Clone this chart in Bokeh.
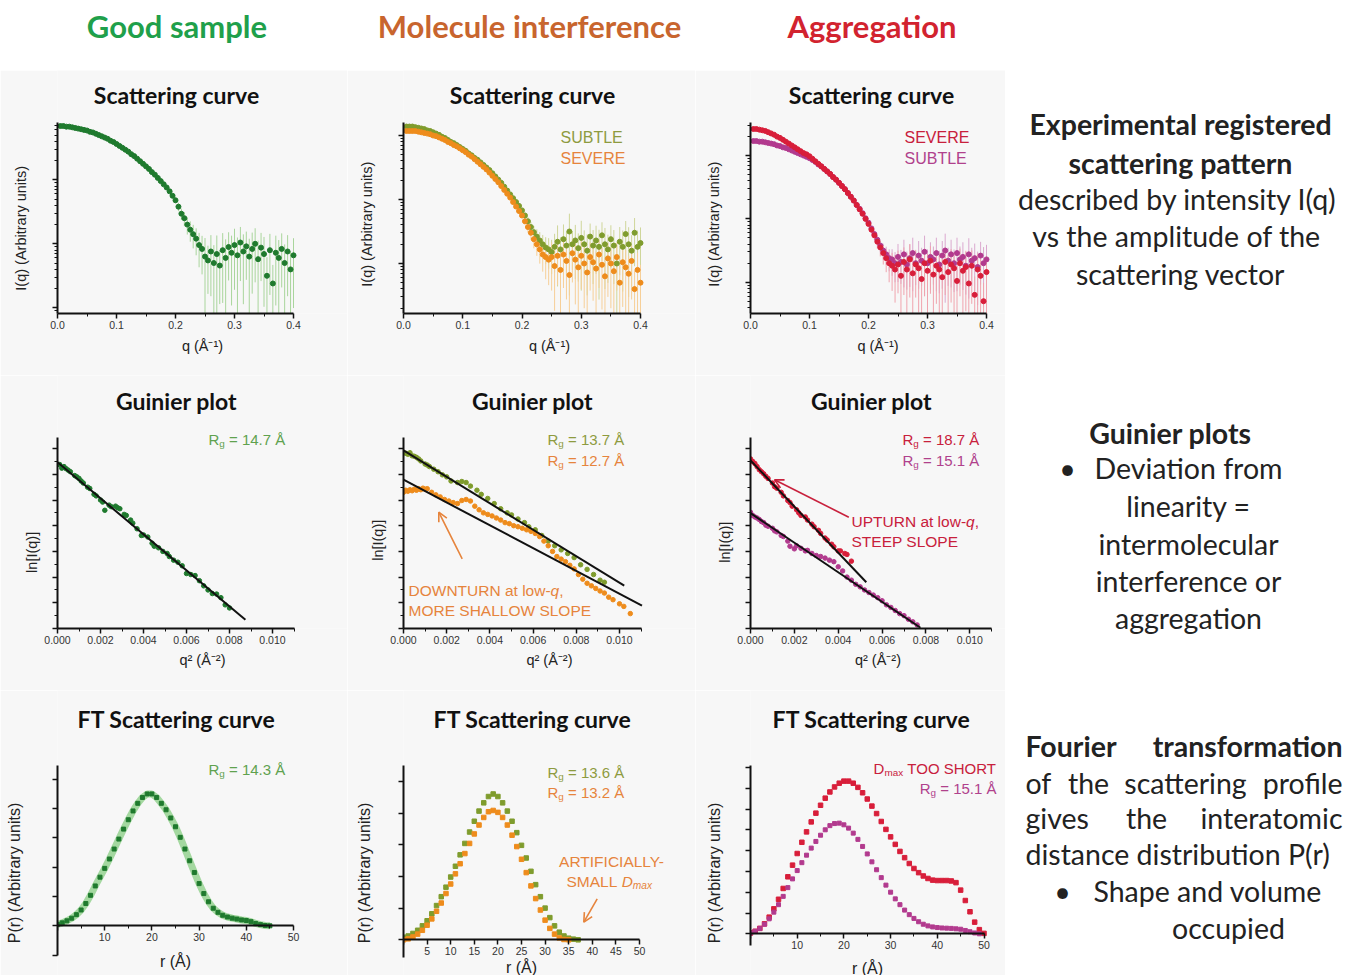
from bokeh.plotting import figure
from bokeh.layouts import column, row
from bokeh.models import (Range1d, FixedTicker, Label, Arrow, OpenHead, PrintfTickFormatter,
                          LogTicker, CustomJSTickFormatter)
from bokeh.core.properties import value
from bokeh.embed import file_html
from bokeh.resources import INLINE

# ------------------------------------------------------------------ data
COL_TITLES = ["Good sample", "Molecule interference", "Aggregation"]
ROW_TITLES = ["Scattering curve", "Guinier plot", "FT Scattering curve"]

Q = [0.005, 0.010, 0.015, 0.020, 0.025, 0.030, 0.035, 0.040, 0.045, 0.050,
     0.055, 0.060, 0.065, 0.070, 0.075, 0.080, 0.085, 0.090, 0.095, 0.100,
     0.105, 0.110, 0.115, 0.120, 0.125, 0.130, 0.135, 0.140, 0.145, 0.150,
     0.155, 0.160, 0.165, 0.170, 0.175, 0.180, 0.185, 0.190, 0.195, 0.200,
     0.205, 0.210, 0.215, 0.220, 0.225, 0.230, 0.235, 0.240, 0.245, 0.250,
     0.255, 0.260, 0.265, 0.270, 0.275, 0.280, 0.285, 0.290, 0.295, 0.300,
     0.305, 0.310, 0.315, 0.320, 0.325, 0.330, 0.335, 0.340, 0.345, 0.350,
     0.355, 0.360, 0.365, 0.370, 0.375, 0.380, 0.385, 0.390, 0.395, 0.400]

# log10 I(q), arbitrary units
LOGI_GOOD = [2.84, 2.84, 2.83, 2.83, 2.82, 2.81, 2.80, 2.79, 2.78, 2.77,
             2.75, 2.74, 2.72, 2.70, 2.68, 2.66, 2.64, 2.61, 2.59, 2.56,
             2.53, 2.50, 2.47, 2.44, 2.40, 2.37, 2.33, 2.29, 2.25, 2.21,
             2.17, 2.12, 2.08, 2.03, 1.98, 1.93, 1.88, 1.82, 1.75, 1.68,
             1.58, 1.47, 1.40, 1.30, 1.22, 1.15, 1.08, 0.98, 0.92, 0.80,
             0.74, 0.88, 0.70, 0.84, 0.66, 0.90, 0.78, 0.95, 0.86, 0.98,
             0.82, 1.02, 0.88, 0.96, 0.80, 0.92, 1.00, 0.76, 0.94, 0.84,
             0.50, 0.90, 0.38, 0.86, 0.78, 0.92, 0.70, 0.88, 0.60, 0.82]
ERR_GOOD = [0.03, 0.03, 0.03, 0.03, 0.03, 0.03, 0.03, 0.03, 0.03, 0.03,
            0.03, 0.03, 0.03, 0.03, 0.03, 0.03, 0.03, 0.03, 0.03, 0.03,
            0.03, 0.03, 0.03, 0.03, 0.03, 0.03, 0.03, 0.03, 0.03, 0.03,
            0.03, 0.03, 0.03, 0.03, 0.03, 0.03, 0.03, 0.03, 0.08, 0.10,
            0.15, 0.20, 0.25, 0.30, 0.35, 0.40, 0.45, 0.55, 0.60, 0.95,
            0.70, 0.80, 0.90, 0.95, 0.75, 0.85, 0.95, 0.70, 0.85, 0.80,
            0.90, 0.75, 0.85, 0.70, 0.90, 0.80, 0.75, 0.95, 0.70, 0.85,
            0.95, 0.80, 0.95, 0.85, 0.90, 0.75, 0.95, 0.80, 0.90, 0.85]

LOGI_MOL_SUBTLE = [3.14, 3.14, 3.14, 3.13, 3.12, 3.11, 3.10, 3.08, 3.07, 3.05,
                   3.03, 3.01, 2.98, 2.96, 2.93, 2.90, 2.88, 2.85, 2.82, 2.79,
                   2.76, 2.72, 2.69, 2.65, 2.62, 2.58, 2.54, 2.50, 2.46, 2.41,
                   2.36, 2.31, 2.26, 2.20, 2.14, 2.08, 2.02, 1.96, 1.90, 1.83,
                   1.75, 1.66, 1.57, 1.49, 1.42, 1.36, 1.30, 1.25, 1.22, 1.18,
                   1.26, 1.34, 1.22, 1.38, 1.28, 1.50, 1.30, 1.36, 1.24, 1.40,
                   1.30, 1.20, 1.42, 1.28, 1.36, 1.26, 1.44, 1.30, 1.22, 1.38,
                   1.28, 1.00, 1.34, 1.26, 1.46, 1.30, 1.20, 1.48, 1.26, 1.32]
ERR_MOL_SUBTLE = [0.03, 0.03, 0.03, 0.03, 0.03, 0.03, 0.03, 0.03, 0.03, 0.03,
                  0.03, 0.03, 0.03, 0.03, 0.03, 0.03, 0.03, 0.03, 0.03, 0.03,
                  0.03, 0.03, 0.03, 0.03, 0.03, 0.03, 0.03, 0.03, 0.03, 0.03,
                  0.03, 0.03, 0.03, 0.03, 0.03, 0.03, 0.03, 0.03, 0.06, 0.08,
                  0.12, 0.16, 0.20, 0.25, 0.30, 0.35, 0.40, 0.45, 0.50, 0.55,
                  0.60, 0.80, 0.55, 0.70, 0.65, 0.90, 0.60, 0.75, 0.70, 0.85,
                  0.65, 0.80, 0.60, 0.75, 0.70, 0.85, 0.60, 0.80, 0.70, 0.65,
                  0.75, 0.95, 0.70, 0.80, 0.60, 0.85, 0.75, 0.70, 0.80, 0.75]
LOGI_MOL_SEVERE = [3.07, 3.07, 3.07, 3.07, 3.06, 3.05, 3.04, 3.03, 3.02, 3.00,
                   2.99, 2.97, 2.95, 2.93, 2.90, 2.88, 2.85, 2.83, 2.80, 2.77,
                   2.74, 2.70, 2.67, 2.63, 2.59, 2.55, 2.51, 2.47, 2.42, 2.37,
                   2.32, 2.27, 2.21, 2.15, 2.09, 2.03, 1.96, 1.89, 1.82, 1.75,
                   1.66, 1.57, 1.48, 1.38, 1.30, 1.22, 1.14, 1.10, 1.06, 1.10,
                   0.96, 1.12, 0.90, 1.14, 1.04, 0.82, 1.16, 1.06, 0.94, 1.12,
                   1.00, 0.86, 1.10, 1.02, 0.92, 1.14, 0.98, 0.80, 1.08, 1.00,
                   0.88, 1.10, 0.70, 1.02, 0.94, 0.84, 1.04, 0.60, 0.90, 0.70]
ERR_MOL_SEVERE = [0.03, 0.03, 0.03, 0.03, 0.03, 0.03, 0.03, 0.03, 0.03, 0.03,
                  0.03, 0.03, 0.03, 0.03, 0.03, 0.03, 0.03, 0.03, 0.03, 0.03,
                  0.03, 0.03, 0.03, 0.03, 0.03, 0.03, 0.03, 0.03, 0.03, 0.03,
                  0.03, 0.03, 0.03, 0.03, 0.03, 0.03, 0.03, 0.03, 0.06, 0.09,
                  0.12, 0.18, 0.22, 0.28, 0.34, 0.40, 0.46, 0.55, 0.60, 0.70,
                  0.80, 0.65, 0.90, 0.70, 0.75, 0.90, 0.65, 0.80, 0.85, 0.70,
                  0.80, 0.90, 0.70, 0.75, 0.85, 0.70, 0.80, 0.95, 0.75, 0.80,
                  0.85, 0.70, 0.95, 0.80, 0.85, 0.90, 0.75, 0.95, 0.85, 0.90]

LOGI_AGG_SEVERE = [3.42, 3.42, 3.41, 3.40, 3.39, 3.37, 3.35, 3.33, 3.30, 3.28,
                   3.25, 3.22, 3.19, 3.16, 3.13, 3.10, 3.07, 3.04, 3.02, 2.99,
                   2.95, 2.91, 2.87, 2.83, 2.79, 2.75, 2.71, 2.66, 2.62, 2.57,
                   2.52, 2.47, 2.41, 2.35, 2.29, 2.22, 2.15, 2.08, 2.00, 1.92,
                   1.83, 1.74, 1.64, 1.55, 1.46, 1.38, 1.30, 1.26, 1.20, 1.28,
                   1.10, 1.32, 1.20, 1.36, 1.14, 1.28, 1.22, 1.05, 1.30, 1.18,
                   1.34, 1.12, 1.26, 1.20, 1.08, 1.32, 1.16, 1.28, 1.22, 1.02,
                   1.30, 1.18, 1.24, 0.98, 1.26, 0.80, 1.20, 1.10, 0.70, 1.16]
ERR_AGG_SEVERE = [0.03, 0.03, 0.03, 0.03, 0.03, 0.03, 0.03, 0.03, 0.03, 0.03,
                  0.03, 0.03, 0.03, 0.03, 0.03, 0.03, 0.03, 0.03, 0.03, 0.03,
                  0.03, 0.03, 0.03, 0.03, 0.03, 0.03, 0.03, 0.03, 0.03, 0.03,
                  0.03, 0.03, 0.03, 0.03, 0.03, 0.03, 0.03, 0.03, 0.06, 0.08,
                  0.12, 0.16, 0.22, 0.28, 0.34, 0.40, 0.50, 0.60, 0.70, 0.65,
                  0.85, 0.70, 0.80, 0.75, 0.90, 0.70, 0.80, 0.95, 0.70, 0.85,
                  0.70, 0.90, 0.75, 0.80, 0.95, 0.70, 0.85, 0.75, 0.80, 0.95,
                  0.70, 0.85, 0.80, 0.95, 0.75, 0.95, 0.80, 0.85, 0.95, 0.80]
LOGI_AGG_SUBTLE = [3.23, 3.23, 3.22, 3.22, 3.21, 3.20, 3.19, 3.18, 3.16, 3.15,
                   3.13, 3.12, 3.10, 3.08, 3.06, 3.04, 3.02, 3.00, 2.98, 2.96,
                   2.93, 2.90, 2.86, 2.83, 2.79, 2.75, 2.71, 2.66, 2.62, 2.57,
                   2.52, 2.47, 2.41, 2.35, 2.29, 2.22, 2.16, 2.09, 2.01, 1.94,
                   1.85, 1.76, 1.67, 1.58, 1.50, 1.44, 1.38, 1.36, 1.30, 1.40,
                   1.32, 1.44, 1.28, 1.38, 1.46, 1.30, 1.42, 1.34, 1.48, 1.30,
                   1.40, 1.36, 1.46, 1.28, 1.42, 1.50, 1.34, 1.44, 1.30, 1.46,
                   1.36, 1.40, 1.26, 1.44, 1.34, 1.38, 1.24, 1.42, 1.30, 1.36]
ERR_AGG_SUBTLE = [0.03, 0.03, 0.03, 0.03, 0.03, 0.03, 0.03, 0.03, 0.03, 0.03,
                  0.03, 0.03, 0.03, 0.03, 0.03, 0.03, 0.03, 0.03, 0.03, 0.03,
                  0.03, 0.03, 0.03, 0.03, 0.03, 0.03, 0.03, 0.03, 0.03, 0.03,
                  0.03, 0.03, 0.03, 0.03, 0.03, 0.03, 0.03, 0.03, 0.05, 0.07,
                  0.10, 0.14, 0.18, 0.22, 0.28, 0.32, 0.38, 0.45, 0.50, 0.60,
                  0.55, 0.70, 0.60, 0.65, 0.75, 0.55, 0.70, 0.60, 0.80, 0.65,
                  0.70, 0.60, 0.75, 0.65, 0.70, 0.85, 0.60, 0.70, 0.65, 0.75,
                  0.60, 0.70, 0.65, 0.80, 0.60, 0.70, 0.75, 0.65, 0.80, 0.70]

# Guinier plots: q^2 and ln I
GUIN_GOOD_Q2 = [0.0001, 0.0002, 0.0003, 0.0004, 0.0005, 0.0006, 0.0008, 0.0009, 0.0010, 0.0011,
                0.0012, 0.0014, 0.0015, 0.0017, 0.0018, 0.0020, 0.0021, 0.0022, 0.0024, 0.0025,
                0.0027, 0.0028, 0.0029, 0.0031, 0.0032, 0.0034, 0.0035, 0.0037, 0.0039, 0.0040,
                0.0042, 0.0044, 0.0045, 0.0047, 0.0049, 0.0051, 0.0052, 0.0054, 0.0056, 0.0058,
                0.0060, 0.0062, 0.0064, 0.0066, 0.0068, 0.0070, 0.0072, 0.0074, 0.0076, 0.0078,
                0.0080]
GUIN_GOOD_LN = [6.38, 6.24, 6.30, 6.22, 6.16, 6.10, 5.95, 5.90, 5.84, 5.74,
                5.66, 5.50, 5.45, 5.22, 5.16, 5.00, 4.92, 4.60, 4.80, 4.74,
                4.76, 4.70, 4.66, 4.44, 4.40, 4.22, 4.10, 3.88, 3.62, 3.64,
                3.56, 3.32, 3.20, 3.14, 3.00, 2.92, 2.80, 2.66, 2.58, 2.44,
                2.14, 2.10, 2.06, 1.86, 1.66, 1.50, 1.36, 1.34, 1.20, 0.92,
                0.80]
FIT_GOOD_Q2 = [0.0, 0.00874]
FIT_GOOD_LN = [6.47, 0.34]

GUIN_MOL_SUBTLE_Q2 = [0.0001, 0.0002, 0.0003, 0.0004, 0.0005, 0.0006, 0.0007, 0.0008, 0.0010, 0.0011,
                      0.0012, 0.0014, 0.0016, 0.0018, 0.0020, 0.0022, 0.0025, 0.0027, 0.0029, 0.0031,
                      0.0034, 0.0036, 0.0039, 0.0042, 0.0045, 0.0048, 0.0050, 0.0053, 0.0056, 0.0058,
                      0.0061, 0.0064, 0.0067, 0.0070, 0.0073, 0.0076, 0.0079, 0.0082, 0.0085, 0.0088,
                      0.0091, 0.0093]
GUIN_MOL_SUBTLE_LN = [6.82, 6.78, 6.84, 6.72, 6.70, 6.66, 6.60, 6.52, 6.40, 6.36,
                      6.30, 6.20, 6.10, 5.98, 5.90, 5.74, 5.68, 5.72, 5.68, 5.54,
                      5.38, 5.22, 5.06, 4.86, 4.66, 4.50, 4.42, 4.26, 4.12, 3.96,
                      3.84, 3.62, 3.40, 3.22, 3.06, 2.92, 2.76, 2.48, 2.30, 2.10,
                      1.88, 1.80]
GUIN_MOL_SEVERE_Q2 = [0.0000, 0.0001, 0.0002, 0.0003, 0.0004, 0.0005, 0.0006, 0.0007, 0.0008, 0.0009,
                      0.0010, 0.0011, 0.0013, 0.0015, 0.0017, 0.0019, 0.0021, 0.0023, 0.0025, 0.0027,
                      0.0029, 0.0031, 0.0033, 0.0035, 0.0037, 0.0039, 0.0041, 0.0043, 0.0045, 0.0047,
                      0.0049, 0.0051, 0.0053, 0.0055, 0.0057, 0.0059, 0.0061, 0.0063, 0.0065, 0.0067,
                      0.0069, 0.0071, 0.0073, 0.0075, 0.0077, 0.0079, 0.0081, 0.0083, 0.0085, 0.0087,
                      0.0089, 0.0091, 0.0093, 0.0095, 0.0097, 0.0100, 0.0102, 0.0105]
GUIN_MOL_SEVERE_LN = [5.30, 5.38, 5.34, 5.40, 5.36, 5.42, 5.38, 5.44, 5.40, 5.46,
                      5.42, 5.44, 5.30, 5.20, 5.12, 5.02, 4.96, 4.90, 4.86, 4.98,
                      5.02, 4.96, 4.76, 4.62, 4.50, 4.44, 4.38, 4.30, 4.22, 4.12,
                      4.08, 4.00, 3.96, 3.90, 3.84, 3.78, 3.70, 3.58, 3.40, 3.22,
                      3.00, 2.80, 2.70, 2.60, 2.46, 2.32, 2.10, 1.92, 1.76, 1.66,
                      1.56, 1.46, 1.38, 1.22, 1.12, 0.96, 0.86, 0.58]
FIT_MOL_SUBTLE_Q2 = [0.0, 0.01022]
FIT_MOL_SUBTLE_LN = [6.93, 1.67]
FIT_MOL_SEVERE_Q2 = [0.0, 0.01104]
FIT_MOL_SEVERE_LN = [5.79, 0.89]

GUIN_AGG_SEVERE_Q2 = [0.0000, 0.0001, 0.0002, 0.0003, 0.0004, 0.0005, 0.0006, 0.0007, 0.0008, 0.0010,
                      0.0011, 0.0012, 0.0014, 0.0015, 0.0017, 0.0018, 0.0019, 0.0021, 0.0022, 0.0023,
                      0.0025, 0.0026, 0.0028, 0.0029, 0.0031, 0.0032, 0.0034, 0.0035, 0.0037, 0.0038,
                      0.0040, 0.0041, 0.0043, 0.0044, 0.0046]
GUIN_AGG_SEVERE_LN = [6.60, 6.50, 6.42, 6.30, 6.18, 6.10, 6.02, 5.92, 5.84, 5.66,
                      5.52, 5.46, 5.30, 5.16, 4.98, 4.90, 4.76, 4.62, 4.50, 4.40,
                      4.34, 4.22, 4.06, 3.96, 3.82, 3.70, 3.52, 3.44, 3.28, 3.18,
                      3.02, 3.02, 2.92, 2.88, 2.62]
GUIN_AGG_SUBTLE_Q2 = [0.0000, 0.0001, 0.0002, 0.0003, 0.0004, 0.0005, 0.0006, 0.0007, 0.0008, 0.0010,
                      0.0011, 0.0012, 0.0014, 0.0015, 0.0017, 0.0018, 0.0020, 0.0021, 0.0023, 0.0025,
                      0.0026, 0.0028, 0.0030, 0.0032, 0.0034, 0.0036, 0.0038, 0.0040, 0.0042, 0.0044,
                      0.0046, 0.0048, 0.0050, 0.0052, 0.0054, 0.0056, 0.0058, 0.0060, 0.0062, 0.0064,
                      0.0066, 0.0068, 0.0070, 0.0072, 0.0074, 0.0076]
GUIN_AGG_SUBTLE_LN = [4.52, 4.40, 4.34, 4.30, 4.24, 4.16, 4.12, 4.02, 3.98, 3.90,
                      3.80, 3.76, 3.62, 3.58, 3.40, 3.20, 3.10, 3.22, 3.12, 3.02,
                      3.04, 2.92, 2.84, 2.80, 2.74, 2.66, 2.60, 2.40, 2.24, 2.00,
                      1.88, 1.72, 1.62, 1.50, 1.40, 1.30, 1.20, 1.08, 0.92, 0.82,
                      0.70, 0.58, 0.50, 0.36, 0.26, 0.14]
FIT_AGG_SEVERE_Q2 = [0.0, 0.00528]
FIT_AGG_SEVERE_LN = [6.54, 1.80]
FIT_AGG_SUBTLE_Q2 = [0.0, 0.00775]
FIT_AGG_SUBTLE_LN = [4.49, 0.03]

# P(r) distance distributions
R_GOOD = [0, 1, 2, 3, 4, 5, 6, 7, 8, 9, 10, 11, 12, 13, 14, 15, 16, 17, 18, 19, 20, 21, 22,
          23, 24, 25, 26, 27, 28, 29, 30, 31, 32, 33, 34, 35, 36, 37, 38, 39, 40, 41, 42, 43, 44, 45]
PR_GOOD = [0.05, 0.10, 0.17, 0.26, 0.38, 0.54, 0.76, 1.04, 1.36, 1.66,
           1.96, 2.28, 2.62, 2.96, 3.30, 3.62, 3.92, 4.18, 4.38, 4.50,
           4.50, 4.38, 4.18, 3.96, 3.68, 3.38, 3.02, 2.62, 2.22, 1.82,
           1.44, 1.10, 0.82, 0.60, 0.46, 0.36, 0.30, 0.26, 0.23, 0.20,
           0.18, 0.14, 0.08, 0.04, 0.01, 0.00]
R_MOL_SUBTLE = [0, 1, 2, 3, 4, 5, 6, 7, 8, 9, 10, 11, 12, 13, 14, 15, 16, 17, 18, 19,
                20, 21, 22, 23, 24, 25, 26, 27, 28, 29, 30, 31, 32, 33, 34, 35, 36, 37]
PR_MOL_SUBTLE = [0.08, 0.12, 0.20, 0.30, 0.44, 0.60, 0.82, 1.08, 1.36, 1.66,
                 1.98, 2.32, 2.68, 3.04, 3.40, 3.74, 4.06, 4.32, 4.52, 4.60,
                 4.52, 4.32, 4.06, 3.74, 3.38, 2.98, 2.58, 2.16, 1.74, 1.36,
                 1.00, 0.70, 0.44, 0.24, 0.12, 0.05, 0.02, 0.00]
R_MOL_SEVERE = [0, 1, 2, 3, 4, 5, 6, 7, 8, 9, 10, 11, 12, 13, 14, 15, 16, 17, 18, 19,
                20, 21, 22, 23, 24, 25, 26, 27, 28, 29, 30, 31, 32, 33, 34, 35]
PR_MOL_SEVERE = [0.00, 0.03, 0.09, 0.18, 0.30, 0.46, 0.66, 0.90, 1.16, 1.46,
                 1.76, 2.08, 2.40, 2.72, 3.04, 3.34, 3.62, 3.86, 4.04, 4.08,
                 4.02, 3.86, 3.62, 3.30, 2.94, 2.54, 2.12, 1.70, 1.30, 0.94,
                 0.62, 0.36, 0.18, 0.06, 0.01, 0.00]
R_AGG_SEVERE = [0, 1, 2, 3, 4, 5, 6, 7, 8, 9, 10, 11, 12, 13, 14, 15, 16, 17, 18, 19, 20, 21, 22, 23, 24, 25,
                26, 27, 28, 29, 30, 31, 32, 33, 34, 35, 36, 37, 38, 39, 40, 41, 42, 43, 44, 45, 46, 47, 48, 49, 50]
PR_AGG_SEVERE = [0.04, 0.12, 0.26, 0.48, 0.80, 1.20, 1.66, 2.18, 2.74, 3.30,
                 3.86, 4.40, 4.90, 5.38, 5.80, 6.18, 6.52, 6.82, 7.06, 7.24,
                 7.34, 7.34, 7.24, 7.04, 6.78, 6.48, 6.14, 5.78, 5.40, 5.02,
                 4.66, 4.30, 3.96, 3.66, 3.38, 3.14, 2.94, 2.78, 2.66, 2.58,
                 2.56, 2.56, 2.56, 2.54, 2.46, 2.10, 1.60, 1.06, 0.56, 0.20,
                 0.02]
R_AGG_SUBTLE = [0, 1, 2, 3, 4, 5, 6, 7, 8, 9, 10, 11, 12, 13, 14, 15, 16, 17, 18, 19, 20, 21, 22, 23, 24,
                25, 26, 27, 28, 29, 30, 31, 32, 33, 34, 35, 36, 37, 38, 39, 40, 41, 42, 43, 44, 45, 46, 47, 48, 49]
PR_AGG_SUBTLE = [0.04, 0.12, 0.26, 0.46, 0.72, 1.04, 1.40, 1.80, 2.22, 2.64,
                 3.04, 3.42, 3.78, 4.12, 4.44, 4.74, 5.00, 5.20, 5.30, 5.32,
                 5.24, 5.08, 4.84, 4.54, 4.20, 3.84, 3.46, 3.08, 2.70, 2.34,
                 2.00, 1.68, 1.40, 1.14, 0.92, 0.74, 0.58, 0.46, 0.38, 0.33,
                 0.30, 0.28, 0.27, 0.26, 0.24, 0.22, 0.16, 0.10, 0.04, 0.00]

# ------------------------------------------------------------------ styles / geometry
BG = "#f7f7f7"
C_GOOD, E_GOOD, T_GOOD = "#1f7a2e", "#a9d59c", "#5fa24f"
C_MSUB, E_MSUB, T_MSUB = "#7f9c2d", "#cfd69a", "#8e9b3f"
C_MSEV, E_MSEV, T_MSEV = "#ee8c1c", "#f6cf98", "#e6843c"
C_ASEV, E_ASEV, T_ASEV = "#d81e3a", "#f0a4ae", "#c8203c"
C_ASUB, E_ASUB, T_ASUB = "#b23a8e", "#dba9cf", "#b0418c"
TITLE_COLORS = ["#1fa04b", "#c8652e", "#d2232f"]
AX_FONT = "Liberation Sans"
NBSP = "\u00a0"

# column: (left, width, y-axis x)   row: (top, height, bottom border)
COLS = [(0, 347, 57), (347, 348, 403), (695, 310, 750)]
ROWS = [(70, 305, 62), (375, 315, 62), (690, 285, 0)]

CW = {" ": 278, "-": 333, ",": 278, ".": 278, "=": 584, "Å": 667,
      "0": 556, "1": 556, "2": 556, "3": 556, "4": 556, "5": 556, "6": 556, "7": 556, "8": 556, "9": 556,
      "A": 667, "B": 667, "C": 722, "D": 722, "E": 667, "F": 611, "H": 722, "I": 278, "L": 556,
      "M": 833, "N": 722, "O": 778, "P": 667, "R": 722, "S": 667, "T": 611, "U": 722, "W": 944, "Y": 667,
      "a": 556, "g": 556, "l": 222, "m": 833, "o": 556, "q": 556, "t": 278, "w": 722, "x": 500}


def tw(s, fs):
    return sum(CW.get(c, 556) for c in s) * fs / 1000.0


class Panel:
    def __init__(self, ci, ri, ppx, p0, ppu, log, xbounds, ybpix, label_px):
        cl, cw, x0 = COLS[ci]
        rt, rh, bb = ROWS[ri]
        self.x0, self.ppx, self.p0, self.ppu, self.log = x0, ppx, p0, ppu, log
        self.label_px = label_px
        self.frame_mid = rt + (rh - bb) / 2.0
        fb = rt + rh - bb
        x_end = (cl + cw - x0) / ppx
        yr = (self.yd(fb), self.yd(rt))
        p = figure(width=cw, height=rh, x_range=Range1d(0, x_end), y_range=Range1d(*yr),
                   y_axis_type=("log" if log else "linear"), output_backend="svg",
                   toolbar_location=None, title_location=None,
                   min_border_left=x0 - cl, min_border_right=0, min_border_top=0, min_border_bottom=bb)
        p.background_fill_color = BG
        p.border_fill_color = BG
        p.outline_line_color = None
        p.grid.grid_line_color = None
        for ax in p.axis:
            ax.axis_line_width = 2
            ax.axis_line_color = "#111111"
            ax.major_tick_line_color = "#111111"
            ax.major_tick_line_width = 1.5
            ax.major_tick_in = 0
            ax.major_tick_out = 5
            ax.minor_tick_line_color = "#111111"
            ax.minor_tick_in = 0
            ax.minor_tick_out = 3
            ax.major_label_text_font = AX_FONT
            ax.major_label_text_font_size = "10.5px"
            ax.major_label_text_color = "#333333"
            ax.axis_label_text_font = AX_FONT
            ax.axis_label_text_font_style = "normal"
            ax.axis_label_text_font_size = f"{label_px}px"
            ax.axis_label_text_color = "#222222"
        p.yaxis.major_label_standoff = 0
        p.yaxis.formatter = CustomJSTickFormatter(code="return ''")
        p.xaxis.major_label_standoff = 2
        p.xaxis.bounds = xbounds
        p.yaxis.bounds = (self.yd(ybpix[0]), self.yd(ybpix[1]))
        self.p = p
        # subplot title, centred over the axes box
        tx = {0: 176, 1: 532, 2: 871}[ci]
        ty = {0: 94, 1: 400, 2: 718}[ri]
        p.add_layout(Label(x=self.xd(tx), y=self.yd(ty), text=ROW_TITLES[ri], text_font="Lato",
                           text_font_size="23px", text_font_style="bold", text_color="#111111",
                           text_align="center", text_baseline="middle"))

    def ylabel(self, text, standoff, centre_px):
        # the rotated label is centred on the frame; trailing no-break spaces
        # move its visible part down to where the reference puts it
        shift = centre_px - self.frame_mid
        n = max(0, int(round(2 * shift / (0.278 * self.label_px))))
        self.p.yaxis.axis_label = text + NBSP * n
        self.p.yaxis.axis_label_standoff = standoff

    def xd(self, xa):
        return (xa - self.x0) / self.ppx

    def yd(self, ya):
        v = (self.p0 - ya) / self.ppu
        return 10 ** v if self.log else v

    def rich(self, xa, ya, parts, color, fs=15.0, align="left"):
        items = []
        for t, k in parts:
            f = fs * 0.66 if k.startswith("sub") else fs
            items.append((t, k, f, tw(t, f)))
        total = sum(i[3] for i in items)
        off = 0.0 if align == "left" else -total
        for t, k, f, w in items:
            lead = len(t) - len(t.lstrip(" "))
            o = off + tw(" " * lead, f)
            self.p.add_layout(Label(x=self.xd(xa), y=self.yd(ya), x_offset=o,
                                    y_offset=(-4 if k.startswith("sub") else 0),
                                    text=t.strip(" "), text_color=color, text_font=AX_FONT,
                                    text_font_size=f"{f:.1f}px",
                                    text_font_style=("italic" if "it" in k else "normal"),
                                    text_baseline="middle", text_align="left"))
            off += w

    def rg(self, xa, ya, val, color, align="left"):
        self.rich(xa, ya, [("R", "n"), ("g", "sub"), (" = " + val + " Å", "n")], color, align=align)

    def arrow(self, xa0, ya0, xa1, ya1, color):
        self.p.add_layout(Arrow(end=OpenHead(size=9, line_color=color, line_width=1.6),
                                x_start=self.xd(xa0), y_start=self.yd(ya0),
                                x_end=self.xd(xa1), y_end=self.yd(ya1),
                                line_color=color, line_width=1.6))


def scatter_panel(ci, ppx, p0, ppu, series, ycentre):
    P = Panel(ci, 0, ppx, p0, ppu, True, (0, 0.4), (313, 122), 14.5)
    p = P.p
    p.xaxis.ticker = FixedTicker(ticks=[0, 0.1, 0.2, 0.3, 0.4], minor_ticks=[0.05, 0.15, 0.25, 0.35])
    p.xaxis.formatter = PrintfTickFormatter(format="%.1f")
    p.xaxis.axis_label = "q (Å⁻¹)"
    p.xaxis.axis_label_standoff = 6
    P.ylabel("I(q) (Arbitrary units)", 24, ycentre)
    p.yaxis.ticker = LogTicker(num_minor_ticks=10)
    for logi, err, col, ecol in series:
        inten = [10 ** v for v in logi]
        lo = [i * (1 - e) for i, e in zip(inten, err)]
        hi = [i * (1 + e) for i, e in zip(inten, err)]
        p.segment(x0=Q, y0=lo, x1=Q, y1=hi, line_color=ecol, line_width=1)
    for logi, err, col, ecol in series:
        p.scatter(Q, [10 ** v for v in logi], size=5, marker="circle", fill_color=col, line_color=col)
    return P


def guinier_panel(ci, ppx, series, fits, ycentre):
    P = Panel(ci, 1, ppx, 628, 25.7, False, (0, 0.011), (628, 437), 14.5)
    p = P.p
    p.xaxis.ticker = FixedTicker(ticks=[0, 0.002, 0.004, 0.006, 0.008, 0.010],
                                 minor_ticks=[0.001, 0.003, 0.005, 0.007, 0.009, 0.011])
    p.xaxis.formatter = PrintfTickFormatter(format="%.3f")
    p.xaxis.axis_label = "q² (Å⁻²)"
    p.xaxis.axis_label_standoff = 5
    p.yaxis.ticker = FixedTicker(ticks=[0, 1, 2, 3, 4, 5, 6, 7],
                                 minor_ticks=[0.5, 1.5, 2.5, 3.5, 4.5, 5.5, 6.5])
    P.ylabel("ln[I(q)]", 13, ycentre)
    for xs, ys, col in series:
        p.scatter(xs, ys, size=4.5, marker="circle", fill_color=col, line_color=col)
    for xs, ys in fits:
        p.line(xs, ys, line_color="#111111", line_width=2)
    return P


def ft_panel(ci, ppx, p0, ppu, ybottom, xticks, xminor, yticks, series, ystand, xstand):
    P = Panel(ci, 2, ppx, p0, ppu, False, (0, 50), (ybottom, 765), 16)
    p = P.p
    p.xaxis.fixed_location = 0
    p.xaxis.ticker = FixedTicker(ticks=xticks, minor_ticks=xminor)
    p.xaxis.formatter = PrintfTickFormatter(format="%d")
    p.xaxis.major_label_overrides = {0: ""}
    p.xaxis.axis_label = "r (Å)"
    p.xaxis.axis_label_standoff = xstand
    p.yaxis.ticker = FixedTicker(ticks=yticks)
    P.ylabel("P(r) (Arbitrary units)", ystand, 873)
    for xs, ys, col, halo, sz in series:
        if halo:
            p.line(xs, ys, line_color=halo, line_width=7, line_alpha=0.8)
        p.scatter(xs, ys, size=sz, marker="square", fill_color=col, line_color=col)
    return P


def text_fig(w, h):
    p = figure(width=w, height=h, x_range=Range1d(0, w), y_range=Range1d(h, 0),
               output_backend="svg", toolbar_location=None, title_location=None,
               x_axis_location=None, y_axis_location=None,
               min_border_left=0, min_border_right=0, min_border_top=0, min_border_bottom=0)
    p.outline_line_color = None
    p.grid.grid_line_color = None
    p.background_fill_color = "white"
    p.border_fill_color = "white"
    return p


def put(p, xs, ys, texts, size="28.5px", style="normal", align="center", font="Lato", color="#222222"):
    p.text(x=xs, y=ys, text=texts, text_font=value(font), text_font_size=value(size),
           text_font_style=style, text_align=align, text_baseline="middle", text_color=color)


# ------------------------------------------------------------------ header
head = text_fig(1005, 70)
for xx, t, c in zip([176.5, 529, 871.5], COL_TITLES, TITLE_COLORS):
    put(head, [xx], [25], [t], size="31px", style="bold", color=c)

# ------------------------------------------------------------------ row 1
s1 = scatter_panel(0, 590, 307.3, 64, [(LOGI_GOOD, ERR_GOOD, C_GOOD, E_GOOD)], 228)
s2 = scatter_panel(1, 592.5, 327, 64, [(LOGI_MOL_SUBTLE, ERR_MOL_SUBTLE, C_MSUB, E_MSUB),
                                      (LOGI_MOL_SEVERE, ERR_MOL_SEVERE, C_MSEV, E_MSEV)], 223)
s2.rich(560, 137, [("SUBTLE", "n")], T_MSUB, fs=16)
s2.rich(560, 158, [("SEVERE", "n")], T_MSEV, fs=16)
s3 = scatter_panel(2, 590, 345, 63.3, [(LOGI_AGG_SUBTLE, ERR_AGG_SUBTLE, C_ASUB, E_ASUB),
                                      (LOGI_AGG_SEVERE, ERR_AGG_SEVERE, C_ASEV, E_ASEV)], 224)
s3.rich(904, 137, [("SEVERE", "n")], T_ASEV, fs=16)
s3.rich(904, 158, [("SUBTLE", "n")], T_ASUB, fs=16)

# ------------------------------------------------------------------ row 2
g1 = guinier_panel(0, 21500, [(GUIN_GOOD_Q2, GUIN_GOOD_LN, C_GOOD)], [(FIT_GOOD_Q2, FIT_GOOD_LN)], 552)
g1.rg(208, 439, "14.7", T_GOOD)
g2 = guinier_panel(1, 21600, [(GUIN_MOL_SUBTLE_Q2, GUIN_MOL_SUBTLE_LN, C_MSUB),
                              (GUIN_MOL_SEVERE_Q2, GUIN_MOL_SEVERE_LN, C_MSEV)],
                   [(FIT_MOL_SUBTLE_Q2, FIT_MOL_SUBTLE_LN), (FIT_MOL_SEVERE_Q2, FIT_MOL_SEVERE_LN)], 540)
g2.rg(547, 439, "13.7", T_MSUB)
g2.rg(547, 460, "12.7", T_MSEV)
g2.rich(408, 590, [("DOWNTURN at low-", "n"), ("q", "it"), (",", "n")], T_MSEV, fs=15.5)
g2.rich(408, 610, [("MORE SHALLOW SLOPE", "n")], T_MSEV, fs=15.5)
g2.arrow(461.7, 558.3, 438.3, 511.7, T_MSEV)
g3 = guinier_panel(2, 21930, [(GUIN_AGG_SEVERE_Q2, GUIN_AGG_SEVERE_LN, C_ASEV),
                              (GUIN_AGG_SUBTLE_Q2, GUIN_AGG_SUBTLE_LN, C_ASUB)],
                   [(FIT_AGG_SEVERE_Q2, FIT_AGG_SEVERE_LN), (FIT_AGG_SUBTLE_Q2, FIT_AGG_SUBTLE_LN)], 541)
g3.rg(902, 439, "18.7", T_ASEV)
g3.rg(902, 460, "15.1", T_ASUB)
g3.rich(851, 521, [("UPTURN at low-", "n"), ("q", "it"), (",", "n")], T_ASEV, fs=15.5)
g3.rich(851, 541, [("STEEP SLOPE", "n")], T_ASEV, fs=15.5)
g3.arrow(848.3, 516.7, 774, 479.3, T_ASEV)

# ------------------------------------------------------------------ row 3
f1 = ft_panel(0, 4.72, 925.3, 29.3, 955, [0, 10, 20, 30, 40, 50], [5, 15, 25, 35, 45],
              [-1, 0, 1, 2, 3, 4, 5], [(R_GOOD, PR_GOOD, C_GOOD, "#8fcf8a", 4)], 30, 9)
f1.rg(208, 769, "14.3", T_GOOD)
f2 = ft_panel(1, 4.72, 939.3, 31.7, 957, [0, 5, 10, 15, 20, 25, 30, 35, 40, 45, 50], [],
              [0, 1, 2, 3, 4, 5],
              [(R_MOL_SUBTLE, PR_MOL_SUBTLE, C_MSUB, None, 4.5),
               (R_MOL_SEVERE, PR_MOL_SEVERE, C_MSEV, None, 4.5)], 26, 1)
f2.rg(547, 772, "13.6", T_MSUB)
f2.rg(547, 792, "13.2", T_MSEV)
f2.p.add_layout(Label(x=f2.xd(611), y=f2.yd(861), text="ARTIFICIALLY-", text_color=T_MSEV,
                      text_font=AX_FONT, text_font_size="15.5px", text_align="center",
                      text_baseline="middle"))
f2.rich(566, 881, [("SMALL ", "n"), ("D", "it"), ("max", "subit")], T_MSEV, fs=15.5)
f2.arrow(596.7, 898.3, 583.3, 921.7, T_MSEV)
f3 = ft_panel(2, 4.67, 933.3, 20.8, 945, [0, 10, 20, 30, 40, 50], [5, 15, 25, 35, 45],
              [0, 1, 2, 3, 4, 5, 6, 7, 8],
              [(R_AGG_SEVERE, PR_AGG_SEVERE, C_ASEV, None, 4.5),
               (R_AGG_SUBTLE, PR_AGG_SUBTLE, C_ASUB, None, 4)], 23, 8)
f3.rich(996, 768, [("D", "n"), ("max", "sub"), (" TOO SHORT", "n")], T_ASEV, align="right")
f3.rg(996, 788, "15.1", T_ASUB, align="right")

# ------------------------------------------------------------------ right-hand text
T = text_fig(352, 975)
X = 1005
put(T, [1180 - X, 1180 - X], [123, 162], ["Experimental registered", "scattering pattern"], style="bold")
put(T, [1177 - X, 1176 - X, 1180 - X], [198, 235, 273],
    ["described by intensity I(q)", "vs the amplitude of the", "scattering vector"])
put(T, [1170 - X], [432], ["Guinier plots"], style="bold")
put(T, [1067 - X], [467], ["•"])
put(T, [1188 - X] * 5, [467, 505, 543, 580, 617],
    ["Deviation from", "linearity =", "intermolecular", "interference or", "aggregation"])
put(T, [1025 - X], [745], ["Fourier"], style="bold", align="left")
put(T, [1342 - X], [745], ["transformation"], style="bold", align="right")
put(T, [1025 - X], [782], ["of"], align="left")
put(T, [1088 - X, 1185 - X], [782, 782], ["the", "scattering"])
put(T, [1342 - X], [782], ["profile"], align="right")
put(T, [1025 - X], [817], ["gives"], align="left")
put(T, [1146 - X], [817], ["the"])
put(T, [1342 - X], [817], ["interatomic"], align="right")
put(T, [1025 - X], [853], ["distance distribution P(r)"], align="left")
put(T, [1062 - X], [890], ["•"])
put(T, [1093 - X], [890], ["Shape and volume"], align="left")
put(T, [1228 - X], [927], ["occupied"])

layout = row(column(head,
                    row(s1.p, s2.p, s3.p),
                    row(g1.p, g2.p, g3.p),
                    row(f1.p, f2.p, f3.p)),
             T)

html = file_html(layout, INLINE)
html = html.replace("<head>", "<head><style>html, body { margin: 0 !important; padding: 0 !important; }</style>", 1)
open("out.html", "w").write(html)
